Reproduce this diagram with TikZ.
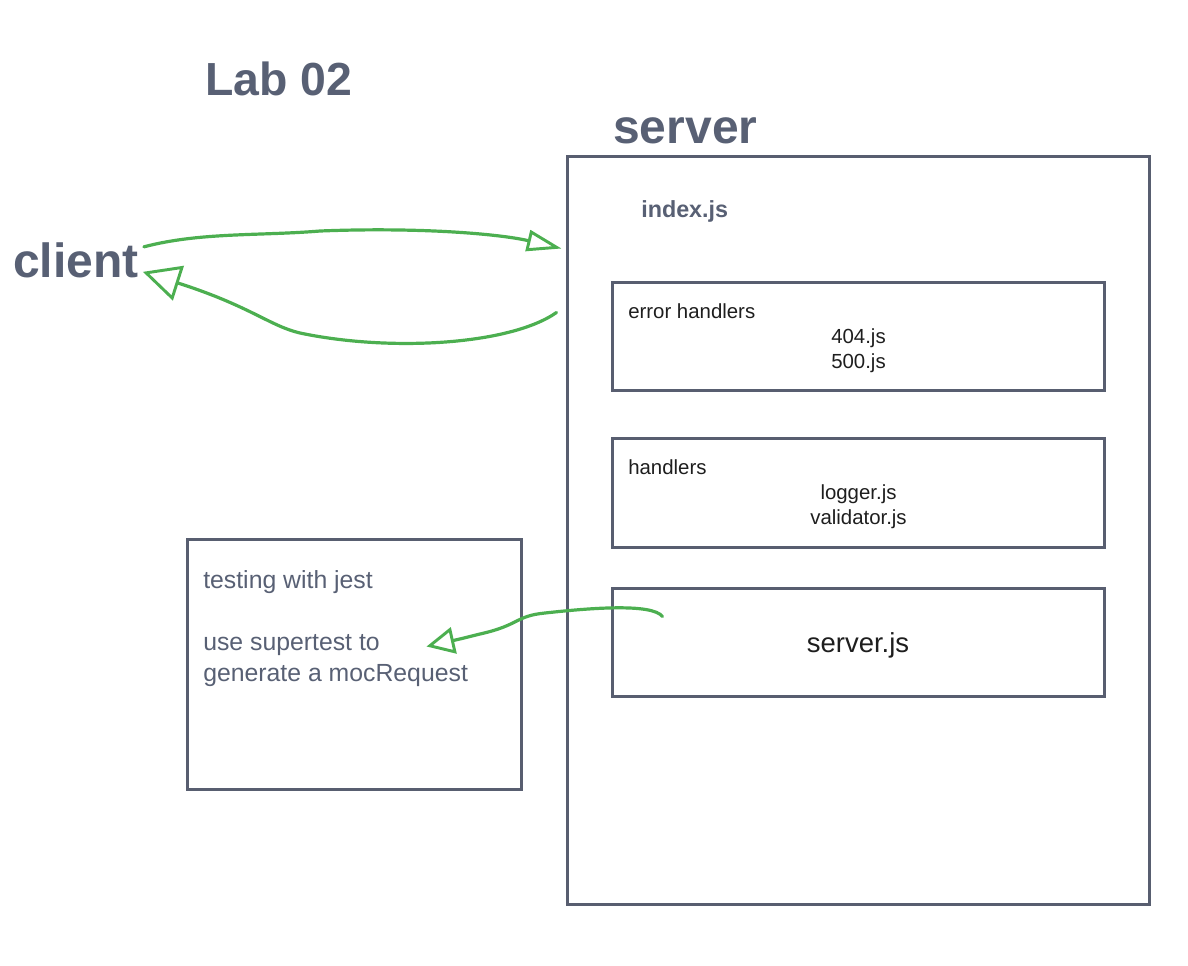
\documentclass[tikz,border=0pt]{standalone}
\usepackage{fontspec}
\setmainfont{Liberation Sans}
\usetikzlibrary{arrows.meta,fit,calc}
\definecolor{slate}{RGB}{88,96,116}
\definecolor{boxline}{RGB}{88,94,112}
\definecolor{darktext}{RGB}{30,30,30}
\definecolor{pen}{RGB}{76,175,80}
\tikzset{
  box/.style={draw=boxline, line width=2.25pt, inner sep=0pt, fill=none},
  title/.style={text=slate, font=\bfseries\fontsize{36pt}{40pt}\selectfont, inner sep=0pt},
  small/.style={text=darktext, font=\fontsize{15.3pt}{18pt}\selectfont, inner sep=0pt},
  note/.style={text=slate, font=\fontsize{18.6pt}{22pt}\selectfont, inner sep=0pt},
  penline/.style={draw=pen, line width=2.4pt, line cap=round, line join=round},
}
\begin{document}
\begin{tikzpicture}[x=0.75pt,y=-0.75pt]
\useasboundingbox (0,0) rectangle (1188,965);
% titles
\node[title, anchor=base west, font=\bfseries\fontsize{34.8pt}{40pt}\selectfont] (lab) at (205,95) {Lab 02};
\node[title, anchor=base west] (srvlabel) at (613,143) {server};
\node[title, anchor=base west] (client) at (13,277) {client};
% boxes
\node[box, fit={(567,156) (1149,904)}] (server) {};
\node[box, fit={(612,282) (1104,390)}] (errbox) {};
\node[box, fit={(612,438) (1104,547)}] (hndbox) {};
\node[box, fit={(612,588) (1104,696)}] (jsbox) {};
\node[box, fit={(187,539) (521,789)}] (testbox) {};
% texts in server
\node[anchor=base west, text=slate, font=\bfseries\fontsize{17.5pt}{20pt}\selectfont, inner sep=0pt] (index) at (641,217) {index.js};
\node[small, anchor=base west] (errlbl) at (628,318) {error handlers};
\node[small, anchor=base] (f404) at (858.5,343) {404.js};
\node[small, anchor=base] (f500) at (858.5,368) {500.js};
\node[small, anchor=base west] (hndlbl) at (628,474) {handlers};
\node[small, anchor=base] (flog) at (858.5,499) {logger.js};
\node[small, anchor=base] (fval) at (858.5,524) {validator.js};
\node[small, anchor=base, font=\fontsize{20.6pt}{24pt}\selectfont] (fsrv) at (858,652) {server.js};
% testing texts
\node[note, anchor=base west] (t1) at (203,588) {testing with jest};
\node[note, anchor=base west] (t2) at (203,650) {use supertest to};
\node[note, anchor=base west] (t3) at (203,681) {generate a mocRequest};
% connector end points
\coordinate (a1s) at ($(client.east)+(5,-13)$);
\coordinate (a1e) at ($(server.north west)+(-4,94)$);
\coordinate (a2s) at ($(server.north west)+(-9,158)$);
\coordinate (a2e) at ($(client.east)+(4,12)$);
\coordinate (a3s) at ($(jsbox.north west)+(52,30)$);
\coordinate (a3e) at ($(testbox.north west)+(241,109)$);
% arrows
\draw[penline, -{Triangle[open,length=26pt,width=16pt,line width=2.2pt]}]
  (a1s) .. controls (200,232) and (260,236) .. (320,231)
        .. controls (420,227) and (500,234) .. (a1e);
\draw[penline, -{Triangle[open,length=28pt,width=27pt,line width=2.2pt]}]
  (a2s) .. controls (510,345) and (390,352) .. (300,333)
        .. controls (270,326) and (250,306) .. (a2e);
\draw[penline, -{Triangle[open,length=21pt,width=20pt,line width=2.2pt]}]
  (a3s) .. controls (652,603) and (590,608) .. (545,613)
        .. controls (515,616) and (520,625) .. (480,634)
        .. controls (460,639) .. (a3e);
\end{tikzpicture}
\end{document}
